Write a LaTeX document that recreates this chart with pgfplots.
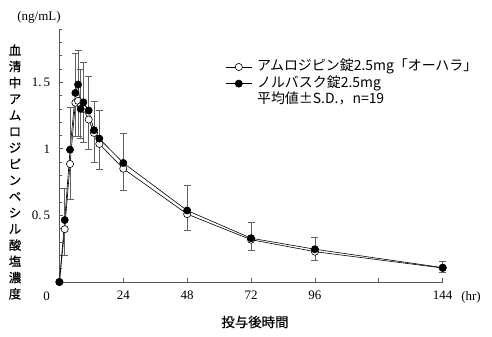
\documentclass[border=0pt]{standalone}
\usepackage{pgfplots}
\pgfplotsset{compat=1.18}
\usepackage{fontspec}
\setmainfont{Liberation Serif}
\newfontfamily\cjk{Noto Sans CJK JP}
\newfontfamily\cjkm[FakeBold=0.5]{Noto Sans CJK JP}
\definecolor{axgray}{HTML}{555555}
\definecolor{errgray}{HTML}{606060}
\begin{document}
\begin{tikzpicture}[x=1bp,y=1bp]
\useasboundingbox (-59.4,-54) rectangle (432.6,282);
\begin{axis}[
  at={(0,0)}, anchor=south west,
  scale only axis, width=383.3bp, height=253bp,
  xmin=0, xmax=144, ymin=0, ymax=1.9,
  clip=false,
  axis x line*=bottom, axis y line*=left,
  axis line style={axgray, line width=0.8bp},
  tick style={axgray, line width=0.7bp},
  tick align=inside,
  major tick length=4bp, minor tick length=3bp,
  xtick={24,48,72,96,120,144},
  xticklabels={24,48,72,96,,144},
  ytick={0.5,1,1.5},
  yticklabels={0.\,5,1,1.\,5},
  minor ytick={0.1,0.2,0.3,0.4,0.6,0.7,0.8,0.9,1.1,1.2,1.3,1.4,1.6,1.7,1.8,1.9},
  /pgf/number format/assume math mode=true,
  tick label style={font=\fontsize{13}{15}\selectfont},
  xticklabel style={inner sep=0pt, anchor=north, yshift=-8.5bp},
  yticklabel style={inner sep=0pt, anchor=east, xshift=-9bp},
  legend style={at={(0.425,0.89)}, anchor=north west, draw=none, fill=none,
    font=\cjk\fontsize{14}{15}\selectfont, row sep=0.6bp, column sep=4bp,
    nodes={inner sep=1bp, text height=10.5bp, text depth=3.5bp}},
  legend cell align=left,
  legend image code/.code={\draw[mark repeat=2,mark phase=2] plot coordinates {(0bp,0bp) (13bp,0bp) (26bp,0bp)};},
]
% open series: test product, error bars downward
\addplot[black, line width=0.6bp, mark=*, mark size=3.6bp, mark options={fill=white, draw=black, line width=0.6bp},
  error bars/.cd, y dir=minus, y explicit, error mark=-, error mark options={mark size=3.5bp, errgray, rotate=90, line width=0.6bp},
  error bar style={errgray, line width=0.6bp}]
  table[x=t, y=c, y error=e] {
t c e
0 0 0
2 0.397 0.197
4 0.886 0.263
6 1.346 0.252
7 1.360 0.266
8 1.320 0.240
9 1.300 0.250
11 1.220 0.221
13 1.120 0.222
15 1.037 0.194
24 0.851 0.166
48 0.510 0.118
72 0.318 0.077
96 0.228 0.068
144 0.105 0.035
};
\addlegendentry{アムロジピン錠2.5mg「オーハラ」}
% filled series: reference product, error bars upward
\addplot[black, line width=0.6bp, mark=*, mark size=3.6bp, mark options={fill=black, draw=black},
  error bars/.cd, y dir=plus, y explicit, error mark=-, error mark options={mark size=3.5bp, errgray, rotate=90, line width=0.6bp},
  error bar style={errgray, line width=0.6bp}]
  table[x=t, y=c, y error=e] {
t c e
0 0 0
2 0.465 0.235
4 0.994 0.316
6 1.420 0.297
7 1.483 0.259
8 1.300 0.296
9 1.350 0.297
11 1.288 0.258
13 1.140 0.218
15 1.077 0.213
24 0.894 0.220
48 0.537 0.186
72 0.329 0.118
96 0.246 0.088
144 0.108 0.045
};
\addlegendentry{ノルバスク錠2.5mg}
\addlegendimage{empty legend}
\addlegendentry{平均値±S.D.，n=19}
\end{axis}
\node[font=\fontsize{13}{15}\selectfont] at (-12.7,-14.7) {0};
\node[font=\fontsize{13}{15}\selectfont] at (411.6,-15) {(hr)};
\node[font=\fontsize{13}{15}\selectfont] at (-20.4,265) {(ng/mL)};
\node[font=\cjkm\fontsize{13.5}{15}\selectfont] at (195.6,-40) {投与後時間};
\node[font=\cjkm\fontsize{12.5}{16.3}\selectfont, align=center, inner sep=0pt] at (-44.4,110) {血\\清\\中\\ア\\ム\\ロ\\ジ\\ピ\\ン\\ベ\\シ\\ル\\酸\\塩\\濃\\度};
\end{tikzpicture}
\end{document}
